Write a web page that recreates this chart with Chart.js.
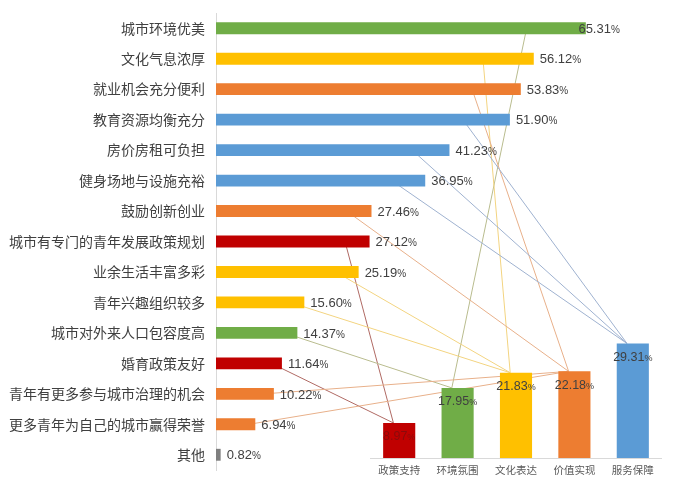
<!DOCTYPE html>
<html><head><meta charset="utf-8">
<script src="https://cdn.jsdelivr.net/npm/chart.js@4.4.1/dist/chart.umd.min.js"></script>
<style>
html,body{margin:0;padding:0;background:#fff;}
#wrap{position:relative;width:677px;height:485px;overflow:hidden;}
#main{position:absolute;left:0;top:0;}
#inset{position:absolute;left:370px;top:330px;}
</style></head><body>
<div id="wrap">
<canvas id="main" width="677" height="485"></canvas>
<canvas id="inset" width="292" height="155"></canvas>
</div>
<script>
// ---- data ----
const factors = ['城市环境优美','文化气息浓厚','就业机会充分便利','教育资源均衡充分','房价房租可负担','健身场地与设施充裕','鼓励创新创业','城市有专门的青年发展政策规划','业余生活丰富多彩','青年兴趣组织较多','城市对外来人口包容度高','婚育政策友好','青年有更多参与城市治理的机会','更多青年为自己的城市赢得荣誉','其他'];
const factorValues = [65.31, 56.12, 53.83, 51.90, 41.23, 36.95, 27.46, 27.12, 25.19, 15.60, 14.37, 11.64, 10.22, 6.94, 0.82];
const groups = ['政策支持','环境氛围','文化表达','价值实现','服务保障'];
const groupValues = [8.97, 17.95, 21.83, 22.18, 29.31];
// index of the group each factor belongs to (-1 = none)
const factorGroup = [1, 2, 3, 4, 4, 4, 3, 0, 2, 2, 1, 0, 3, 3, -1];

// ---- styles ----
const groupColors = ['#C00000', '#70AD47', '#FFC000', '#ED7D31', '#5B9BD5'];
const linkColors = ['#B06A64', '#B9BC8E', '#F3D480', '#E8B08A', '#9FB2D0'];
const otherColor = '#7F7F7F';
const factorColors = factorGroup.map(g => g < 0 ? otherColor : groupColors[g]);
const CJK = '"Noto Sans CJK SC", "Noto Sans", sans-serif';
const LAT = '"Liberation Sans", Arial, sans-serif';

function drawPct(ctx, text, x, y, align, color, size) {
  const num = text.replace('%', '');
  const ps = Math.round(size * 0.75);
  ctx.save();
  ctx.fillStyle = color;
  ctx.textBaseline = 'alphabetic';
  ctx.textAlign = 'left';
  ctx.font = size + 'px ' + LAT;
  const wn = ctx.measureText(num).width;
  ctx.font = ps + 'px ' + LAT;
  const wp = ctx.measureText('%').width;
  let sx = align === 'center' ? x - (wn + wp) / 2 : x;
  const base = y + size * 0.36;
  ctx.font = size + 'px ' + LAT;
  ctx.fillText(num, sx, base);
  ctx.font = ps + 'px ' + LAT;
  ctx.fillText('%', sx + wn, base);
  ctx.restore();
}

const insetCanvas = document.getElementById('inset');

const insetLabels = {
  id: 'insetLabels',
  afterDatasetsDraw(chart) {
    const meta = chart.getDatasetMeta(0);
    meta.data.forEach((bar, i) => {
      const col = i === 0 ? '#8A0A0A' : '#404040';
      drawPct(chart.ctx, groupValues[i].toFixed(2) + '%', bar.x, bar.y + 13, 'center', col, 12.5);
    });
  }
};

const inset = new Chart(insetCanvas, {
  type: 'bar',
  data: { labels: groups, datasets: [{ data: groupValues, backgroundColor: groupColors, barPercentage: 0.55, categoryPercentage: 1 }] },
  options: {
    responsive: false, animation: false,
    layout: { padding: { top: 3, left: 0, right: 0, bottom: 0 } },
    plugins: { legend: { display: false }, tooltip: { enabled: false } },
    scales: {
      x: {
        grid: { display: false, drawTicks: false },
        border: { display: true, color: '#D9D9D9', width: 1 },
        ticks: { color: '#595959', font: { family: CJK, size: 10.5 }, padding: 6 },
        afterFit(s) { s.height = 27; }
      },
      y: { display: false, min: 0, max: 32 }
    }
  },
  plugins: [insetLabels]
});

const links = {
  id: 'links',
  beforeDatasetsDraw(chart) {
    const ctx = chart.ctx;
    const meta = chart.getDatasetMeta(0);
    const im = inset.getDatasetMeta(0);
    const offX = insetCanvas.offsetLeft, offY = insetCanvas.offsetTop;
    ctx.save();
    ctx.lineWidth = 1;
    factorGroup.forEach((g, i) => {
      if (g < 0) return;
      const bar = meta.data[i];
      const sx = chart.scales.x.getPixelForValue(factorValues[i] * 0.84);
      const t = im.data[g];
      ctx.strokeStyle = linkColors[g];
      ctx.beginPath();
      ctx.moveTo(sx, bar.y);
      ctx.lineTo(t.x - t.width * 0.18 + offX, t.y + offY);
      ctx.stroke();
    });
    ctx.restore();
  }
};

const valueLabels = {
  id: 'valueLabels',
  afterDatasetsDraw(chart) {
    const meta = chart.getDatasetMeta(0);
    const limit = chart.scales.x.getPixelForValue(64);
    meta.data.forEach((bar, i) => {
      const x = Math.min(bar.x + 6, limit);
      drawPct(chart.ctx, factorValues[i].toFixed(2) + '%', x, bar.y, 'left', '#404040', 13);
    });
  }
};

new Chart(document.getElementById('main'), {
  type: 'bar',
  data: { labels: factors, datasets: [{ data: factorValues, backgroundColor: factorColors, barPercentage: 0.39, categoryPercentage: 1 }] },
  options: {
    indexAxis: 'y', responsive: false, animation: false,
    layout: { padding: { top: 13, bottom: 15, left: 8, right: 8 } },
    plugins: { legend: { display: false }, tooltip: { enabled: false } },
    scales: {
      x: { display: false, min: 0, max: 80 },
      y: {
        grid: { display: false, drawTicks: false },
        border: { display: true, color: '#D9D9D9', width: 1 },
        ticks: { color: '#404040', font: { family: CJK, size: 14 }, padding: 11, autoSkip: false },
        afterFit(s) { s.width = 208; s.paddingTop = 0; s.paddingBottom = 0; }
      }
    }
  },
  plugins: [links, valueLabels]
});
</script>
</body></html>
